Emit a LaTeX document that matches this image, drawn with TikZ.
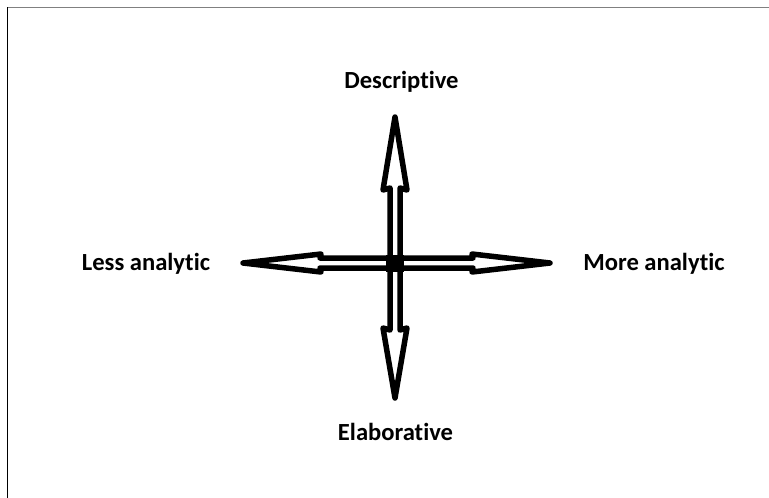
\documentclass[tikz,border=0pt]{standalone}
\usepackage{fontspec}
\setmainfont{Carlito}[Ligatures=NoCommon]
\begin{document}
\begin{tikzpicture}[x=1pt,y=-1pt,
  lbl/.style={font=\bfseries\fontsize{24.6}{28}\selectfont, anchor=base, inner sep=0pt},
  arm/.style={line width=5.5pt, line join=round, line cap=round, draw=black, fill=white}]
\useasboundingbox (0,0) rectangle (769,498);
\fill[white] (0,0) rectangle (769,498);
\draw[gray, line width=1pt] (7,7) -- (769,7);
\draw[black, line width=1pt] (7,7) -- (7,498);
\coordinate (c) at (395,263);
% up arm
\draw[arm] (390,263) -- (390,188) -- (383,190) -- (395,117) -- (407,190) -- (400,188) -- (400,263);
% down arm
\draw[arm] (390,263) -- (390,330) -- (383,328) -- (395,398) -- (407,328) -- (400,330) -- (400,263);
% left arm
\draw[arm] (395,258) -- (320,258) -- (321,254) -- (243,263) -- (321,272) -- (320,268) -- (395,268);
% right arm
\draw[arm] (395,258) -- (473,258) -- (472,254) -- (550,263) -- (472,272) -- (473,268) -- (395,268);
\fill[black] (386,255) rectangle (404,272);
\node[lbl] (desc) at (401.5,88) {Descriptive};
\node[lbl] (less) at (146,270) {Less analytic};
\node[lbl] (more) at (654,270) {More analytic};
\node[lbl] (elab) at (395.5,440) {Elaborative};
\end{tikzpicture}
\end{document}
